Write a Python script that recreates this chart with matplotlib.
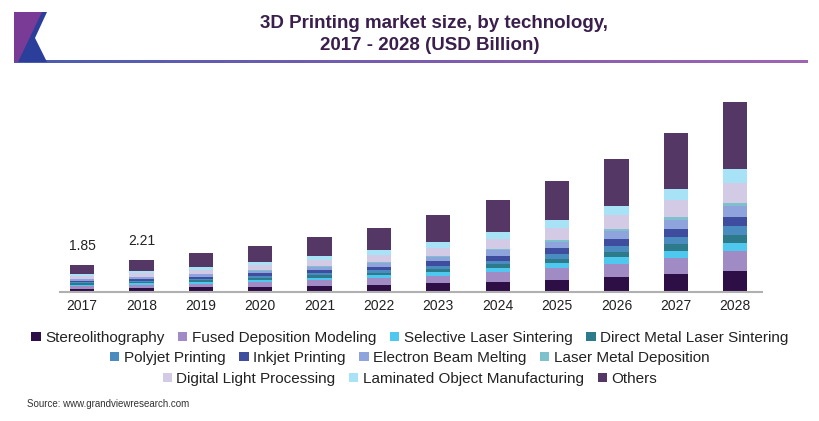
import numpy as np
import matplotlib.pyplot as plt
from matplotlib.patches import Polygon, Patch
from matplotlib.colors import LinearSegmentedColormap

plt.rcParams['font.family'] = ['Liberation Sans', 'DejaVu Sans']

# Data (USD Billion)
years = ['2017', '2018', '2019', '2020', '2021', '2022', '2023', '2024', '2025', '2026', '2027', '2028']
stereolithography = [0.22, 0.26, 0.31, 0.37, 0.43, 0.50, 0.60, 0.71, 0.85, 1.02, 1.22, 1.45]
fused_deposition = [0.19, 0.22, 0.26, 0.31, 0.37, 0.43, 0.52, 0.62, 0.75, 0.90, 1.06, 1.31]
selective_laser = [0.09, 0.10, 0.12, 0.15, 0.17, 0.20, 0.24, 0.29, 0.35, 0.43, 0.52, 0.57]
direct_metal_laser = [0.08, 0.09, 0.11, 0.13, 0.16, 0.18, 0.22, 0.26, 0.31, 0.37, 0.48, 0.57]
polyjet = [0.08, 0.09, 0.11, 0.13, 0.16, 0.18, 0.22, 0.26, 0.32, 0.38, 0.43, 0.57]
inkjet = [0.10, 0.12, 0.14, 0.17, 0.20, 0.24, 0.28, 0.34, 0.41, 0.50, 0.59, 0.64]
electron_beam = [0.11, 0.13, 0.15, 0.18, 0.22, 0.25, 0.30, 0.36, 0.44, 0.54, 0.61, 0.77]
laser_metal_dep = [0.03, 0.03, 0.04, 0.05, 0.06, 0.07, 0.08, 0.09, 0.11, 0.14, 0.16, 0.18]
digital_light = [0.19, 0.23, 0.28, 0.33, 0.39, 0.46, 0.55, 0.66, 0.79, 0.95, 1.16, 1.36]
laminated_object = [0.13, 0.16, 0.19, 0.23, 0.27, 0.32, 0.38, 0.46, 0.55, 0.65, 0.80, 0.97]
others = [0.63, 0.78, 0.92, 1.10, 1.31, 1.53, 1.85, 2.23, 2.64, 3.18, 3.79, 4.51]
total_labels = {0: '1.85', 1: '2.21'}

names = ['Stereolithography', 'Fused Deposition Modeling', 'Selective Laser Sintering',
         'Direct Metal Laser Sintering', 'Polyjet Printing', 'Inkjet Printing',
         'Electron Beam Melting', 'Laser Metal Deposition', 'Digital Light Processing',
         'Laminated Object Manufacturing', 'Others']
series = [stereolithography, fused_deposition, selective_laser, direct_metal_laser, polyjet,
          inkjet, electron_beam, laser_metal_dep, digital_light, laminated_object, others]
colors = ['#2e0f45', '#a08bc4', '#4fc8f0', '#2c7a8a', '#4a8cc0', '#3e4d9e',
          '#8fa3dc', '#7ec0cc', '#d3cbe6', '#a8e2f7', '#553765']

fig = plt.figure(figsize=(8.2, 4.21), dpi=100)
W, H = 820, 421

# header: logo + title + gradient rule
hdr = fig.add_axes([0, 0, 1, 1])
hdr.axis('off')
hdr.add_patch(Polygon([(14, 12), (47, 12), (35, 38), (47, 62), (14, 62)], closed=True,
                      color='#2b3f9a', lw=0))
hdr.add_patch(Polygon([(14, 12), (42, 12), (18, 62), (14, 62)], closed=True,
                      color='#7a3b96', lw=0))
grad = np.linspace(0, 1, 256).reshape(1, -1)
rule_cmap = LinearSegmentedColormap.from_list('rule', ['#4a5cb0', '#7a5cb0', '#a064b4'])
hdr.imshow(grad, cmap=rule_cmap, extent=[14, 808, 63.5, 61], aspect='auto')
hdr.set_xlim(0, W)
hdr.set_ylim(H, 0)
hdr.text(434, 23, '3D Printing market size, by technology,', ha='center', va='center',
         fontsize=13.5, fontweight='bold', color='#3a1f4c')
hdr.text(430, 46, '2017 - 2028 (USD Billion)', ha='center', va='center',
         fontsize=13.5, fontweight='bold', color='#3a1f4c')
hdr.text(27, 404, 'Source: www.grandviewresearch.com', ha='left', va='center',
         fontsize=7, color='#333333')

# chart
ax = fig.add_axes([60 / W, 1 - 292 / H, 702 / W, 198.5 / H])
x = np.arange(len(years))
bottom = np.zeros(len(years))
for vals, c, n in zip(series, colors, names):
    ax.bar(x, vals, width=0.41, bottom=bottom, color=c, label=n, linewidth=0)
    bottom += np.array(vals)
for i, lab in total_labels.items():
    ax.text(x[i], bottom[i] + 0.8, lab, ha='center', va='bottom', fontsize=10, color='#222222')

ax.set_xlim(-0.37, 11.45)
ax.set_ylim(0, 13.5)
ax.set_xticks(x)
ax.set_xticklabels(years, fontsize=10, color='#222222')
ax.tick_params(axis='x', length=0, pad=5)
ax.set_yticks([])
for s in ['top', 'right', 'left']:
    ax.spines[s].set_visible(False)
ax.spines['bottom'].set_color('#b0b0b0')
ax.spines['bottom'].set_linewidth(1.5)

# legend in three centred rows
rows = [(0, 4, 338), (4, 8, 358), (8, 11, 379)]
for a, b, ypx in rows:
    handles = [Patch(facecolor=colors[k], edgecolor='none', label=names[k]) for k in range(a, b)]
    leg = fig.legend(handles=handles, loc='center', bbox_to_anchor=(0.5, 1 - ypx / H),
                     ncol=b - a, frameon=False, fontsize=11, handlelength=0.6,
                     handleheight=0.6, handletextpad=0.3, columnspacing=0.9,
                     borderaxespad=0, borderpad=0)
    for t in leg.get_texts():
        t.set_color('#222222')

fig.savefig('out.png', dpi=100)
